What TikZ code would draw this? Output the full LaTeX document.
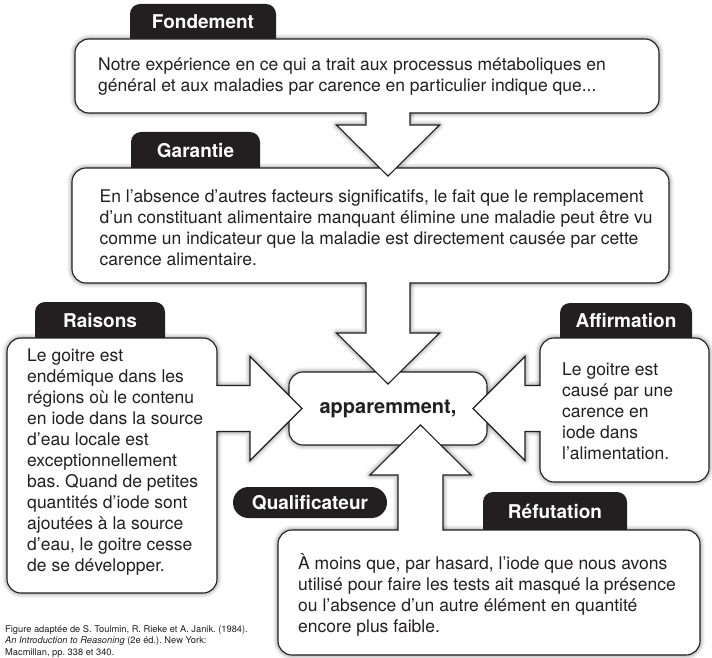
\documentclass[tikz,border=0pt]{standalone}
\usepackage{fontspec}
\setmainfont{TeX Gyre Heros}
\usetikzlibrary{calc}
\definecolor{ink}{HTML}{231F20}
\frenchspacing
\pgfdeclarelayer{bglayer}
\pgfdeclarelayer{shadowlayer}
\pgfsetlayers{bglayer,shadowlayer,main}
% vertical block arrow: #1 source point, #2 stem half width, #3 head base offset, #4 head half width, #5 tip offset, #6 start offset
\newcommand\Vpath[6]{($(#1)+(-#2,#6)$) -- ($(#1)+(-#2,#3)$) -- ($(#1)+(-#4,#3)$) -- ($(#1)+(0,#5)$) -- ($(#1)+(#4,#3)$) -- ($(#1)+(#2,#3)$) -- ($(#1)+(#2,#6)$)}
% horizontal block arrow
\newcommand\Hpath[6]{($(#1)+(#6,-#2)$) -- ($(#1)+(#3,-#2)$) -- ($(#1)+(#3,-#4)$) -- ($(#1)+(#5,0)$) -- ($(#1)+(#3,#4)$) -- ($(#1)+(#3,#2)$) -- ($(#1)+(#6,#2)$)}
% soft drop shadow of a path
\newcommand\softshadow[1]{%
  \begin{scope}[shift={(2.5pt,-3.5pt)}]
    \foreach \w/\o in {10/0.03,8/0.04,6/0.05,4/0.07,2/0.09}{\draw[black, line width=\w pt, draw opacity=\o, line join=round] #1;}
    \fill[black, fill opacity=0.25] #1;
  \end{scope}}
\tikzset{
  boxst/.style={draw=ink, fill=white, line width=1.1pt, rounded corners=14pt, inner sep=0pt, outer sep=0pt},
  tabst/.style={fill=ink},
  tablabel/.style={text=white, font=\bfseries\fontsize{19}{22}\selectfont, inner sep=0pt},
  bodytxt/.style={text=ink, font=\fontsize{17.5}{21}\selectfont, align=left, inner sep=0pt, anchor=west},
  arrfill/.style={fill=white},
  arrline/.style={draw=ink, line width=1.1pt, line join=miter},
}
\begin{document}
\begin{tikzpicture}[x=1pt,y=-1pt]
\useasboundingbox (0,0) rectangle (712,658);
\begin{pgfonlayer}{bglayer}
  \fill[white] (0,0) rectangle (712,658);
\end{pgfonlayer}

% tabs (bottoms hidden under boxes)
\fill[tabst, rounded corners=10pt] (130,4) rectangle (276,60);
\fill[tabst, rounded corners=10pt] (131,132) rectangle (260,190);
\fill[tabst, rounded corners=10pt] (35,302) rectangle (165,360);
\fill[tabst, rounded corners=10pt] (560,303) rectangle (692,360);
\fill[tabst, rounded corners=10pt] (483,492) rectangle (627,550);
\fill[tabst, rounded corners=15.5pt] (233,487) rectangle (387,518);

% boxes
\node[boxst, minimum width=584pt, minimum height=74pt] (fond) at (367,76) {};
\node[boxst, minimum width=597pt, minimum height=115pt] (gar) at (370.5,225.5) {};
\node[boxst, minimum width=210pt, minimum height=255pt] (rais) at (112,465.5) {};
\node[boxst, minimum width=198pt, minimum height=73pt] (cent) at (388,408.5) {};
\node[boxst, minimum width=169pt, minimum height=144pt] (aff) at (624.5,410) {};
\node[boxst, minimum width=422pt, minimum height=125pt] (ref) at (489,592.5) {};

% arrow anchor points
\coordinate (A1) at (fond.south -| cent.north);
\coordinate (A2) at (gar.south -| cent.north);
\coordinate (A3) at (rais.east |- cent.west);
\coordinate (A4) at (aff.west |- cent.east);
\coordinate (A5) at ($(ref.north west)+(142.5,0)$);

% shadows
\begin{pgfonlayer}{shadowlayer}
  \softshadow{[rounded corners=14pt] (fond.north west) rectangle (fond.south east)}
  \softshadow{[rounded corners=14pt] (gar.north west) rectangle (gar.south east)}
  \softshadow{[rounded corners=14pt] (rais.north west) rectangle (rais.south east)}
  \softshadow{[rounded corners=14pt] (cent.north west) rectangle (cent.south east)}
  \softshadow{[rounded corners=14pt] (aff.north west) rectangle (aff.south east)}
  \softshadow{[rounded corners=14pt] (ref.north west) rectangle (ref.south east)}
  \softshadow{\Vpath{A1}{22}{12}{51.5}{63}{0} -- cycle}
  \softshadow{\Vpath{A2}{22}{50}{51.5}{101}{0} -- cycle}
  \softshadow{\Hpath{A3}{23}{33}{52}{85}{0} -- cycle}
  \softshadow{\Hpath{A4}{23}{-15}{52}{-67}{0} -- cycle}
  \softshadow{\Vpath{A5}{22.5}{-55}{50.5}{-105}{0} -- cycle}
\end{pgfonlayer}

% block arrows
\fill[arrfill] \Vpath{A1}{22}{12}{51.5}{63}{-2} -- cycle;
\draw[arrline] \Vpath{A1}{22}{12}{51.5}{63}{-0.55};
\fill[arrfill] \Vpath{A2}{22}{50}{51.5}{101}{-2} -- cycle;
\draw[arrline] \Vpath{A2}{22}{50}{51.5}{101}{-0.55};
\fill[arrfill] \Hpath{A3}{23}{33}{52}{85}{-2} -- cycle;
\draw[arrline] \Hpath{A3}{23}{33}{52}{85}{-0.55};
\fill[arrfill] \Hpath{A4}{23}{-15}{52}{-67}{2} -- cycle;
\draw[arrline] \Hpath{A4}{23}{-15}{52}{-67}{0.55};
\fill[arrfill] \Vpath{A5}{22.5}{-55}{50.5}{-105}{2} -- cycle;
\draw[arrline] \Vpath{A5}{22.5}{-55}{50.5}{-105}{0.55};

% tab labels
\node[tablabel] (fondlab) at (203,22) {Fondement};
\node[tablabel] (garlab) at (195.5,150.5) {Garantie};
\node[tablabel] (raislab) at (100,321) {Raisons};
\node[tablabel] (afflab) at (626,321) {Affirmation};
\node[tablabel] (reflab) at (555,511.5) {Réfutation};
\node[tablabel] (quallab) at (310,502.5) {Qualificateur};

% texts
\node[bodytxt] (fondtxt) at (98,77) {Notre expérience en ce qui a trait aux processus métaboliques en\\général et aux maladies par carence en particulier indique que...};
\node[bodytxt] (gartxt) at (99.5,228) {En l’absence d’autres facteurs significatifs, le fait que le remplacement\\d’un constituant alimentaire manquant élimine une maladie peut être vu\\comme un indicateur que la maladie est directement causée par cette\\carence alimentaire.};
\node[bodytxt] (raistxt) at (27,462) {Le goitre est\\endémique dans les\\régions où le contenu\\en iode dans la source\\d’eau locale est\\exceptionnellement\\bas. Quand de petites\\quantités d’iode sont\\ajoutées à la source\\d’eau, le goitre cesse\\de se développer.};
\node[bodytxt] (afftxt) at (562,411) {Le goitre est\\causé par une\\carence en\\iode dans\\l’alimentation.};
\node[bodytxt] (reftxt) at (298,595) {À moins que, par hasard, l’iode que nous avons\\utilisé pour faire les tests ait masqué la présence\\ou l’absence d’un autre élément en quantité\\encore plus faible.};
\node[text=ink, font=\bfseries\fontsize{20}{24}\selectfont, inner sep=0pt] (centtxt) at (cent.center) {apparemment,};

% caption
\node[anchor=north west, text=ink, font=\fontsize{9.3}{11.5}\selectfont, align=left, inner sep=0pt] (cap) at (5,625) {Figure adaptée de S. Toulmin, R. Rieke et A. Janik. (1984).\\\textit{An Introduction to Reasoning} (2e éd.). New York:\\Macmillan, pp. 338 et 340.};
\end{tikzpicture}
\end{document}
